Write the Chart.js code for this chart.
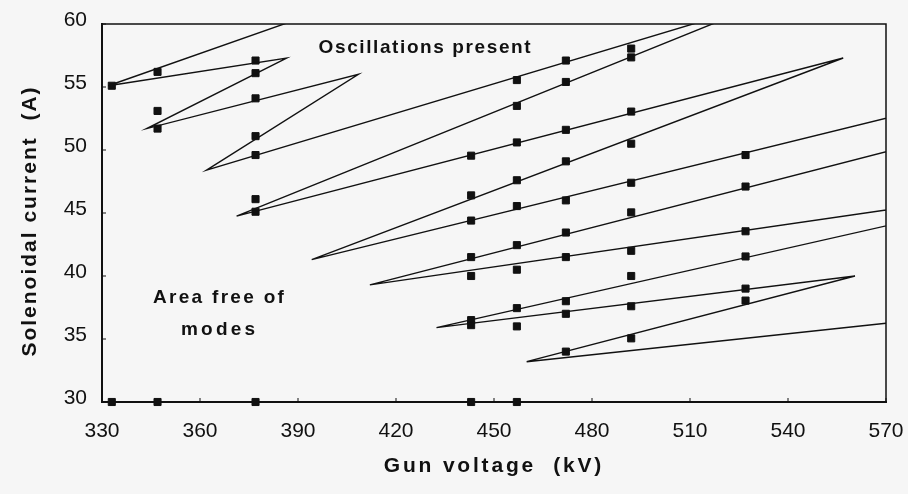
<!DOCTYPE html>
<html><head><meta charset="utf-8">
<script src="https://cdn.jsdelivr.net/npm/chart.js@4/dist/chart.umd.min.js"></script>
<style>html,body{margin:0;padding:0;background:#f6f6f6;} #wrap{width:908px;height:494px;position:relative}</style>
</head><body><div id="wrap"><canvas id="c" width="908" height="494"></canvas></div>
<script>
// ---- data ----
const xTickValues = [330, 360, 390, 420, 450, 480, 510, 540, 570];
const yTickValues = [30, 35, 40, 45, 50, 55, 60];

// measured points (gun voltage kV, solenoidal current A)
const pointVoltage = [
  333, 333,
  347, 347, 347, 347,
  377, 377, 377, 377, 377, 377, 377, 377,
  443, 443, 443, 443, 443, 443, 443, 443,
  457, 457, 457, 457, 457, 457, 457, 457, 457, 457,
  472, 472, 472, 472, 472, 472, 472, 472, 472, 472,
  492, 492, 492, 492, 492, 492, 492, 492, 492, 492,
  527, 527, 527, 527, 527, 527
];
const pointCurrent = [
  55.1, 30,
  56.2, 53.1, 51.7, 30,
  57.1, 56.1, 54.1, 51.1, 49.6, 46.1, 45.1, 30,
  49.55, 46.4, 44.4, 41.5, 40.0, 36.5, 36.1, 30,
  55.55, 53.5, 50.6, 47.6, 45.55, 42.45, 40.5, 37.45, 36.0, 30,
  57.1, 55.4, 51.6, 49.1, 46.0, 43.45, 41.5, 38.0, 37.0, 34.0,
  58.05, 57.35, 53.05, 50.5, 47.4, 45.05, 42.0, 40.0, 37.6, 35.05,
  49.6, 47.1, 43.55, 41.55, 39.0, 38.05
];

// zig-zag boundary line vertices
const boundaryVoltage = [389, 331.9, 386.5, 343.7, 408.5, 362.0, 534, 371.2, 556.9, 394.2, 590, 590, 412.0, 630, 432.4, 560.5, 460.0, 570];
const boundaryCurrent = [60.3, 55.1, 57.3, 51.7, 56.0, 48.4, 61.8, 44.75, 57.3, 41.3, 53.8, 51.2, 39.3, 47.5, 35.9, 40.0, 33.2, 36.25];

const notes = [
  { text: 'Oscillations present', x: 429, y: 58.1, size: 19, spacing: '1.6px' },
  { text: 'Area free of', x: 366, y: 38.25, size: 19, spacing: '2.3px' },
  { text: 'modes', x: 366, y: 35.7, size: 19, spacing: '3.2px' }
];

const FONT = '"Liberation Sans", Arial, Helvetica, sans-serif';
const INK = '#111111';

// letter-spaced axis titles (y title sits slightly below the plot centre in the reference)
const origDrawTitle = Chart.Scale.prototype.drawTitle;
Chart.Scale.prototype.drawTitle = function () {
  const ctx = this.ctx;
  ctx.save();
  ctx.letterSpacing = this.axis === 'x' ? '2.8px' : '2px';
  if (this.axis === 'y') ctx.translate(0, 8);
  origDrawTitle.call(this);
  ctx.restore();
};

const framePlugin = {
  id: 'frame',
  afterDraw(chart) {
    const { ctx, chartArea: a, scales: { x, y } } = chart;
    ctx.save();
    ctx.strokeStyle = INK;
    ctx.lineWidth = 1.5;
    ctx.beginPath();
    ctx.moveTo(a.left, a.top); ctx.lineTo(a.right, a.top); ctx.lineTo(a.right, a.bottom);
    ctx.stroke();
    ctx.lineWidth = 1;
    ctx.beginPath();
    x.ticks.forEach(t => { const px = x.getPixelForValue(t.value); ctx.moveTo(px, a.bottom); ctx.lineTo(px, a.bottom - 4); });
    y.ticks.forEach(t => { const py = y.getPixelForValue(t.value); ctx.moveTo(a.left, py); ctx.lineTo(a.left + 4, py); });
    ctx.stroke();
    ctx.restore();
  }
};

const notePlugin = {
  id: 'notes',
  afterDatasetsDraw(chart) {
    const { ctx, scales: { x, y } } = chart;
    ctx.save();
    ctx.fillStyle = INK;
    ctx.textAlign = 'center';
    ctx.textBaseline = 'middle';
    notes.forEach(n => {
      ctx.font = 'bold ' + n.size + 'px ' + FONT;
      ctx.letterSpacing = n.spacing;
      ctx.fillText(n.text, x.getPixelForValue(n.x), y.getPixelForValue(n.y));
    });
    ctx.restore();
  }
};

new Chart(document.getElementById('c'), {
  type: 'scatter',
  data: {
    datasets: [
      {
        label: 'Boundary',
        data: boundaryVoltage.map((v, i) => ({ x: v, y: boundaryCurrent[i] })),
        showLine: true,
        borderColor: INK,
        borderWidth: 1.4,
        pointRadius: 0,
        tension: 0,
        fill: false
      },
      {
        label: 'Measured',
        data: pointVoltage.map((v, i) => ({ x: v, y: pointCurrent[i] })),
        showLine: false,
        pointStyle: 'rect',
        pointRadius: 5,
        backgroundColor: INK,
        borderColor: INK,
        borderWidth: 1,
        clip: false
      }
    ]
  },
  options: {
    responsive: false,
    animation: false,
    layout: { padding: { left: 0, right: 22, top: 24, bottom: 0 } },
    plugins: { legend: { display: false }, tooltip: { enabled: false } },
    scales: {
      x: {
        type: 'linear', min: 330, max: 570,
        afterBuildTicks: s => { s.ticks = xTickValues.map(v => ({ value: v })); },
        afterFit: s => { s.height = 92; s.paddingLeft = 0; s.paddingRight = 0; },
        grid: { display: false, drawTicks: false },
        border: { display: true, color: INK, width: 2 },
        ticks: { color: INK, font: { family: FONT, size: 21 }, padding: 17, maxRotation: 0 },
        title: { display: true, text: 'Gun voltage  (kV)', color: INK, font: { family: FONT, size: 21, weight: 'bold' }, padding: { top: 0, bottom: 15 } }
      },
      y: {
        type: 'linear', min: 30, max: 60,
        afterBuildTicks: s => { s.ticks = yTickValues.map(v => ({ value: v })); },
        afterFit: s => { s.width = 102; s.paddingTop = 0; s.paddingBottom = 0; },
        grid: { display: false, drawTicks: false },
        border: { display: true, color: INK, width: 2 },
        ticks: { color: INK, font: { family: FONT, size: 21 }, padding: 15, labelOffset: -4 },
        title: { display: true, text: 'Solenoidal current  (A)', color: INK, font: { family: FONT, size: 21, weight: 'bold' }, padding: { top: 18, bottom: 0 } }
      }
    }
  },
  plugins: [framePlugin, notePlugin]
});
</script>
</body></html>
